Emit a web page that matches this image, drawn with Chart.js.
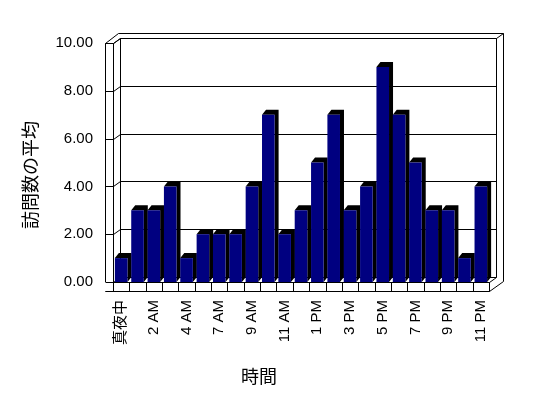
<!DOCTYPE html>
<html>
<head>
<meta charset="utf-8">
<script src="https://cdn.jsdelivr.net/npm/chart.js@4"></script>
<style>
  body { margin: 0; background: #fff; }
</style>
</head>
<body>
<canvas id="visitChart" width="548" height="398"></canvas>
<script>
// 時間帯 (6 AM はデータなし)
const hours = [
  "真夜中", "1 AM", "2 AM", "3 AM", "4 AM", "5 AM", "7 AM", "8 AM",
  "9 AM", "10 AM", "11 AM", "正午", "1 PM", "2 PM", "3 PM", "4 PM",
  "5 PM", "6 PM", "7 PM", "8 PM", "9 PM", "10 PM", "11 PM"
];
// 訪問数の平均
const avgVisits = [1, 3, 3, 4, 1, 2, 2, 2, 4, 7, 2, 3, 5, 7, 3, 4, 9, 7, 5, 3, 3, 1, 4];
const yTicks = [0, 2, 4, 6, 8, 10];
const xTitle = "時間";
const yTitle = "訪問数の平均";

const DX = 7, DY = 5;      // 奥行き (壁)
const BDX = 4, BDY = 5;    // 奥行き (棒)

// 3D の枠・壁・床を描く
const frame3d = {
  id: "frame3d",
  beforeDatasetsDraw(chart) {
    const ctx = chart.ctx;
    const { left: L, right: R, top: T, bottom: B } = chart.chartArea;
    const y = chart.scales.y;
    const x = chart.scales.x;
    const OL = L - 8, OB = B + 9;
    ctx.save();
    ctx.strokeStyle = "#000";
    ctx.lineWidth = 1;
    const line = (pts) => {
      ctx.beginPath();
      ctx.moveTo(pts[0][0] + 0.5, pts[0][1] + 0.5);
      for (let i = 1; i < pts.length; i++) ctx.lineTo(pts[i][0] + 0.5, pts[i][1] + 0.5);
      ctx.stroke();
    };
    // 目盛線 (奥の壁)
    yTicks.forEach((v) => {
      const py = Math.round(y.getPixelForValue(v));
      line([[OL, py], [L, py], [L + DX, py - DY], [R + DX, py - DY]]);
    });
    // 左の壁
    line([[OL, OB], [OL, T], [OL + 13, T - 10], [R + 14, T - 10], [R + 14, OB - 10], [R, OB]]);
    line([[L, B], [L, T], [L + DX, T - DY], [R + DX, T - DY], [R + DX, B - DY]]);
    line([[L + DX, T - DY], [L + DX, B - DY]]);
    line([[OL, T], [L, T]]);
    line([[R + DX, T - DY], [R + 14, T - 10]]);
    // 床
    ctx.fillStyle = "#fff";
    ctx.fillRect(OL, B, R - OL, OB - B);
    line([[OL, OB], [R, OB], [R, B], [OL, B]]);
    line([[R, B], [R + DX, B - DY]]);
    const step = (R - L) / hours.length;
    for (let i = 0; i <= hours.length; i++) {
      const px = Math.round(L + i * step);
      line([[px, B], [px, OB]]);
    }
    // 棒の側面と上面
    const meta = chart.getDatasetMeta(0);
    ctx.fillStyle = "#000";
    meta.data.forEach((bar) => {
      const l = bar.x - bar.width / 2, r = bar.x + bar.width / 2;
      ctx.beginPath();
      ctx.moveTo(l, bar.y);
      ctx.lineTo(l + BDX, bar.y - BDY);
      ctx.lineTo(r + BDX, bar.y - BDY);
      ctx.lineTo(r + BDX, bar.base - BDY);
      ctx.lineTo(r, bar.base);
      ctx.lineTo(r, bar.y);
      ctx.closePath();
      ctx.fill();
    });
    ctx.restore();
  },
  afterDraw(chart) {
    const ctx = chart.ctx;
    ctx.save();
    ctx.fillStyle = "#000";
    ctx.font = '18px "Noto Sans CJK JP"';
    ctx.textAlign = "center";
    ctx.textBaseline = "middle";
    ctx.fillText(xTitle, 259, 376);
    ctx.translate(30, 175);
    ctx.rotate(-Math.PI / 2);
    ctx.fillText(yTitle, 0, 0);
    ctx.restore();
  },
};

const ctx = document.getElementById("visitChart").getContext("2d");
new Chart(ctx, {
  type: "bar",
  data: {
    labels: hours,
    datasets: [
      {
        data: avgVisits,
        backgroundColor: "#000080",
        borderWidth: 0,
        barPercentage: 0.77,
        categoryPercentage: 1,
      },
    ],
  },
  options: {
    responsive: false,
    animation: false,
    layout: { padding: { top: 43, right: 59, bottom: 0, left: 0 } },
    plugins: {
      legend: { display: false },
      tooltip: { enabled: false },
    },
    scales: {
      x: {
        grid: { display: false, drawTicks: false },
        border: { display: false },
        ticks: {
          autoSkip: false,
          minRotation: 90,
          maxRotation: 90,
          padding: 18,
          color: "#000",
          font: { family: '"Liberation Sans", "Noto Sans CJK JP"', size: 15 },
          callback: function (value, index) {
            return index % 2 === 0 ? this.getLabelForValue(value) : "";
          },
        },
        afterFit: (scale) => {
          scale.height = 116;
        },
      },
      y: {
        min: 0,
        max: 10,
        grid: { display: false, drawTicks: false },
        border: { display: false },
        ticks: {
          stepSize: 2,
          padding: 20,
          color: "#000",
          font: { family: '"Liberation Sans"', size: 15 },
          callback: (v) => Number(v).toFixed(2),
        },
        afterFit: (scale) => {
          scale.width = 113;
        },
      },
    },
  },
  plugins: [frame3d],
});
</script>
</body>
</html>
